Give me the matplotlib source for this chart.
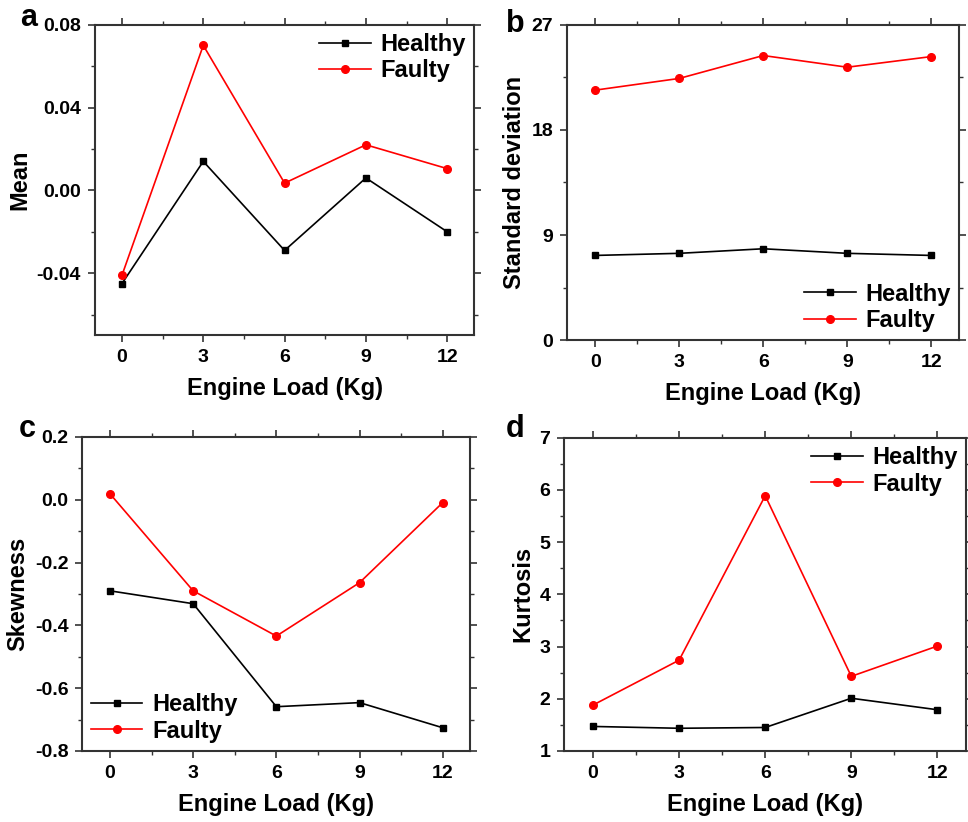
import numpy as np
import matplotlib
matplotlib.use('Agg')
import matplotlib.pyplot as plt
from matplotlib.ticker import MultipleLocator

plt.rcParams['font.family'] = ['Liberation Sans', 'DejaVu Sans']
plt.rcParams['font.weight'] = 'bold'

# data
load = [0, 3, 6, 9, 12]

mean_healthy = [-0.045, 0.014, -0.029, 0.006, -0.020]
mean_faulty = [-0.041, 0.070, 0.0035, 0.022, 0.0105]

std_healthy = [7.26, 7.44, 7.83, 7.44, 7.26]
std_faulty = [21.4, 22.4, 24.36, 23.36, 24.27]

skew_healthy = [-0.290, -0.331, -0.659, -0.646, -0.726]
skew_faulty = [0.019, -0.290, -0.434, -0.264, -0.009]

kurt_healthy = [1.47, 1.435, 1.45, 2.01, 1.79]
kurt_faulty = [1.88, 2.74, 5.89, 2.43, 3.01]

fig = plt.figure(figsize=(9.68, 8.22), dpi=100)

# axes rectangles (figure fraction)
rects = {
    'a': [0.098, 0.592, 0.392, 0.378],
    'b': [0.586, 0.586, 0.405, 0.384],
    'c': [0.085, 0.0864, 0.401, 0.382],
    'd': [0.583, 0.0864, 0.415, 0.381],
}

panels = [
    ('a', mean_healthy, mean_faulty, 'Mean', (-0.07, 0.08), [-0.04, 0.00, 0.04, 0.08],
     ['-0.04', '0.00', '0.04', '0.08'], 0.02, 'upper right'),
    ('b', std_healthy, std_faulty, 'Standard deviation', (0, 27), [0, 9, 18, 27],
     ['0', '9', '18', '27'], 4.5, 'lower right'),
    ('c', skew_healthy, skew_faulty, 'Skewness', (-0.8, 0.2), [-0.8, -0.6, -0.4, -0.2, 0.0, 0.2],
     ['-0.8', '-0.6', '-0.4', '-0.2', '0.0', '0.2'], 0.1, 'lower left'),
    ('d', kurt_healthy, kurt_faulty, 'Kurtosis', (1, 7), [1, 2, 3, 4, 5, 6, 7],
     ['1', '2', '3', '4', '5', '6', '7'], 0.5, 'upper right'),
]

for letter, h, f, ylab, ylim, yt, ytl, yminor, loc in panels:
    ax = fig.add_axes(rects[letter])
    ax.plot(load, h, color='black', marker='s', markersize=5, linewidth=1.2, label='Healthy')
    ax.plot(load, f, color='#ff0000', marker='o', markersize=5.5, linewidth=1.2, label='Faulty')
    ax.set_xlim(-1, 13)
    ax.set_ylim(*ylim)
    ax.set_xticks(load)
    ax.set_xticklabels([str(v) for v in load])
    ax.set_yticks(yt)
    ax.set_yticklabels(ytl)
    ax.xaxis.set_minor_locator(MultipleLocator(1.5))
    ax.yaxis.set_minor_locator(MultipleLocator(yminor))
    ax.tick_params(which='both', direction='out', top=True, right=True,
                   labeltop=False, labelright=False, labelsize=14, color='#333333')
    ax.tick_params(which='major', length=5, width=1.2, pad=5)
    ax.tick_params(which='minor', length=3, width=1.0)
    for s in ax.spines.values():
        s.set_color('#333333')
        s.set_linewidth(1.5)
    ax.set_xlabel('Engine Load (Kg)', fontsize=17, fontweight='bold', labelpad=8)
    ax.set_ylabel(ylab, fontsize=17, fontweight='bold', labelpad=4)
    ax.legend(loc=loc, frameon=False, fontsize=17, handlelength=2.2, handletextpad=0.4,
              labelspacing=0.15, borderaxespad=0.15, borderpad=0.2)

# panel letters
fig.text(0.021, 0.968, 'a', fontsize=22, fontweight='bold', va='baseline', ha='left')
fig.text(0.523, 0.961, 'b', fontsize=22, fontweight='bold', va='baseline', ha='left')
fig.text(0.019, 0.468, 'c', fontsize=22, fontweight='bold', va='baseline', ha='left')
fig.text(0.522, 0.468, 'd', fontsize=22, fontweight='bold', va='baseline', ha='left')

fig.savefig('out.png', dpi=100)
